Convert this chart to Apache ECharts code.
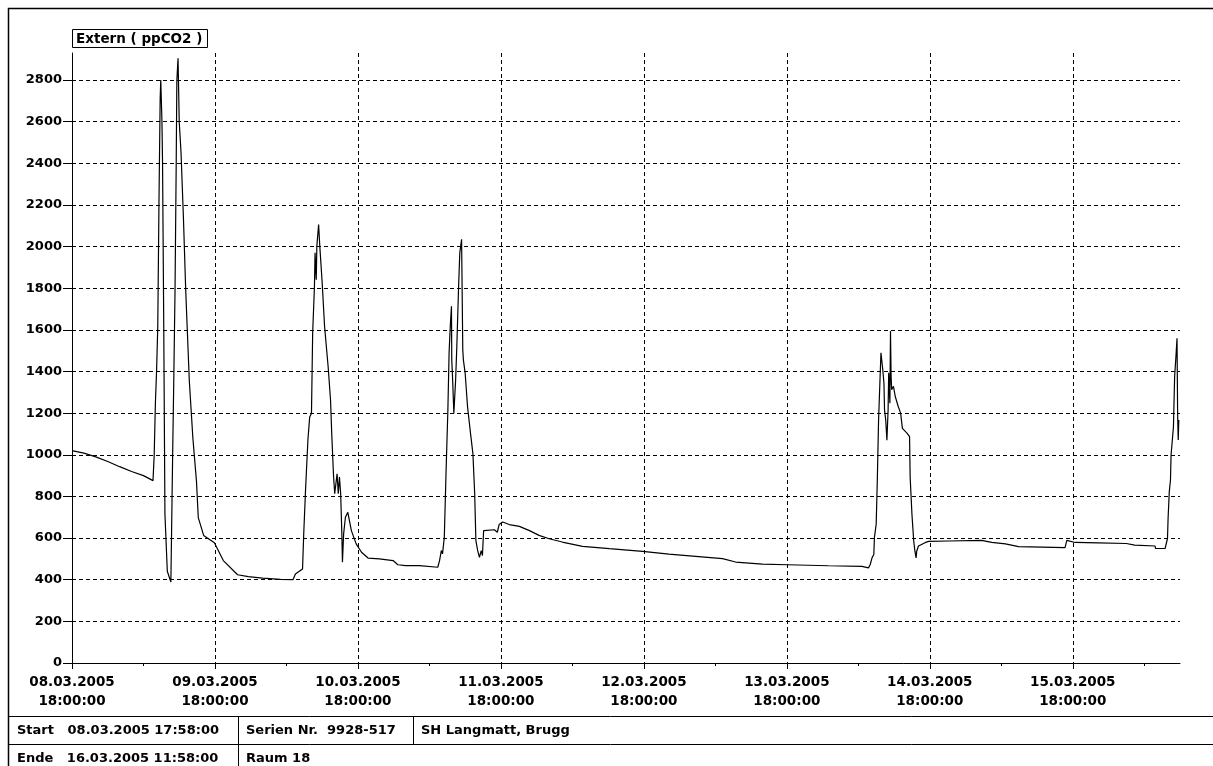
<!DOCTYPE html>
<html>
<head>
<meta charset="utf-8">
<script src="https://cdn.jsdelivr.net/npm/echarts@6/dist/echarts.min.js"></script>
<style>
html,body{margin:0;padding:0;background:#fff;}
#chart{width:1213px;height:766px;}
</style>
</head>
<body>
<div id="chart"></div>
<script>
// Hours since 08.03.2005 18:00:00
var hours = [0,2,4,6,8,10,12,13.6,13.8,14.0,14.2,14.4,14.6,14.8,14.9,15.1,15.2,15.4,15.6,16.0,16.6,16.9,17.1,17.3,17.5,17.6,17.8,18.0,18.3,18.7,19.1,19.7,20.3,20.9,21.2,22.1,23.9,25.4,27.8,29.6,32,35,37.1,37.5,38.7,38.9,39.2,39.6,39.9,40.2,40.3,40.4,40.7,40.8,41.0,41.1,41.4,41.6,42.0,42.4,43.0,43.4,43.6,43.9,44.1,44.5,44.7,44.9,45.1,45.3,45.4,45.6,45.9,46.3,46.9,47.7,48.6,49.7,51.6,53.9,54.7,56,58.3,61.4,61.7,62.0,62.2,62.5,62.8,63.1,63.3,63.5,63.7,63.75,63.9,64.1,64.4,64.6,64.9,65.1,65.4,65.6,65.7,66.0,66.4,66.9,67.3,67.6,67.8,68.1,68.4,68.7,68.9,69.1,69.3,70.9,71.4,71.7,72.3,73.4,75.1,76.8,78.4,80.1,82.3,85.7,90.2,95.8,100.2,104.7,109.2,111.4,115.9,120.1,127.0,132.6,133.7,134.0,134.3,134.6,134.7,135.0,135.2,135.4,135.6,135.8,136.0,136.1,136.3,136.4,136.6,136.8,137.0,137.1,137.3,137.4,137.5,137.6,137.9,138.2,138.7,139.1,139.4,140.2,140.6,140.7,141.0,141.3,141.5,141.7,141.8,142.1,142.4,143.2,143.8,147.1,152.7,154.4,156.7,158.9,166.7,167.0,168.4,172.3,177.0,178.4,181.8,181.9,183.5,183.7,183.9,184.0,184.2,184.4,184.5,184.7,184.9,185.0,185.1,185.3,185.5,185.6,185.7,185.8];
var ppm = [1020,1008,990,968,943,920,900,876,1000,1249,1404,1619,2212,2711,2800,2600,2401,1627,716,441,389,1008,1387,1799,2418,2797,2905,2600,2453,2143,1782,1352,1077,871,698,613,578,492,424,415,408,402,400,427,451,620,829,1070,1182,1198,1391,1584,1809,1970,1841,2001,2106,2001,1825,1616,1423,1263,1103,901,813,909,813,893,813,620,484,620,700,724,636,572,532,504,500,492,472,468,468,460,492,540,524,604,926,1215,1488,1617,1714,1456,1360,1199,1360,1520,1810,1971,2035,1505,1456,1392,1231,1103,1006,813,588,540,508,540,516,636,640,640,628,665,677,665,656,636,613,597,581,560,549,536,523,512,501,485,475,472,467,464,457,473,505,521,602,667,893,1167,1329,1490,1499,1410,1345,1216,1167,1070,1216,1394,1248,1595,1377,1313,1329,1280,1232,1200,1127,1103,1087,893,715,586,537,505,537,562,570,578,584,586,589,579,572,559,554,589,579,577,574,566,562,550,550,574,598,694,822,878,999,1007,1135,1135,1376,1464,1560,1199,1071,1167];

var xTickValues = [0,24,48,72,96,120,144,168];
var xTickLabels = ['08.03.2005\n18:00:00','09.03.2005\n18:00:00','10.03.2005\n18:00:00','11.03.2005\n18:00:00','12.03.2005\n18:00:00','13.03.2005\n18:00:00','14.03.2005\n18:00:00','15.03.2005\n18:00:00'];
var xMinorTickValues = [12,36,60,84,108,132,156,180];
var yTickValues = [0,200,400,600,800,1000,1200,1400,1600,1800,2000,2200,2400,2600,2800];

var seriesName = 'Extern ( ppCO2 )';
var infoStart = 'Start   08.03.2005 17:58:00';
var infoEnde = 'Ende   16.03.2005 11:58:00';
var infoSerien = 'Serien Nr.  9928-517';
var infoOrt = 'SH Langmatt, Brugg';
var infoRaum = 'Raum 18';

var FONT = 'DejaVu Sans';
var chart = echarts.init(document.getElementById('chart'), null, {renderer: 'canvas'});
var data = hours.map(function (h, i) { return [h, ppm[i]]; });

chart.setOption({
  animation: false,
  backgroundColor: '#fff',
  title: {
    text: seriesName,
    left: 72, top: 29,
    padding: [3, 5, 2, 4],
    borderColor: '#000', borderWidth: 1,
    textStyle: {fontFamily: FONT, fontSize: 13.5, fontWeight: 'bold', color: '#000'}
  },
  grid: {left: 72, right: 33, top: 53, bottom: 103, containLabel: false},
  xAxis: [{
    type: 'value', min: 0, max: 186, interval: 24,
    axisLine: {show: true, lineStyle: {color: '#000', width: 1}},
    axisTick: {show: true, length: 6, customValues: xTickValues, lineStyle: {color: '#000'}},
    axisLabel: {
      customValues: xTickValues, margin: 10,
      fontFamily: FONT, fontSize: 13.5, fontWeight: 'bold', color: '#000', lineHeight: 19,
      formatter: function (v) { var i = xTickValues.indexOf(v); return i >= 0 ? xTickLabels[i] : ''; }
    },
    splitLine: {show: true, lineStyle: {color: '#000', type: [4, 3], width: 1}}
  }, {
    type: 'value', min: 0, max: 186, position: 'bottom', gridIndex: 0,
    axisLine: {show: false},
    axisTick: {show: true, length: 3, customValues: xMinorTickValues, lineStyle: {color: '#000'}},
    axisLabel: {show: false},
    splitLine: {show: false}
  }],
  yAxis: {
    type: 'value', min: 0, max: 2930, interval: 200,
    axisLine: {show: true, lineStyle: {color: '#000', type: [4, 3], width: 1}},
    axisTick: {show: true, length: 9, customValues: yTickValues, lineStyle: {color: '#000'}},
    axisLabel: {
      customValues: yTickValues, margin: 10,
      fontFamily: FONT, fontSize: 13, fontWeight: 'bold', color: '#000',
      formatter: function (v) { return String(v); }
    },
    splitLine: {show: true, lineStyle: {color: '#000', type: [4, 3], width: 1}}
  },
  series: [{
    name: seriesName,
    type: 'line',
    xAxisIndex: 0,
    data: data,
    showSymbol: false,
    symbol: 'none',
    lineStyle: {color: '#000', width: 1.2},
    silent: true
  }],
  graphic: [
    {type: 'rect', shape: {x: 8.5, y: 8.5, width: 1215, height: 770}, style: {fill: null, stroke: '#000', lineWidth: 1.5}, silent: true},
    {type: 'line', shape: {x1: 8, y1: 716.5, x2: 1213, y2: 716.5}, style: {stroke: '#000', lineWidth: 1}, silent: true},
    {type: 'line', shape: {x1: 8, y1: 744.5, x2: 1213, y2: 744.5}, style: {stroke: '#000', lineWidth: 1}, silent: true},
    {type: 'line', shape: {x1: 238.5, y1: 716, x2: 238.5, y2: 766}, style: {stroke: '#000', lineWidth: 1}, silent: true},
    {type: 'line', shape: {x1: 413.5, y1: 716, x2: 413.5, y2: 745}, style: {stroke: '#000', lineWidth: 1}, silent: true},
    {type: 'text', x: 17, y: 730.5, style: {text: infoStart, fontFamily: FONT, fontSize: 13, fontWeight: 'bold', fill: '#000', textVerticalAlign: 'middle', verticalAlign: 'middle'}, silent: true},
    {type: 'text', x: 17, y: 758.5, style: {text: infoEnde, fontFamily: FONT, fontSize: 13, fontWeight: 'bold', fill: '#000', textVerticalAlign: 'middle', verticalAlign: 'middle'}, silent: true},
    {type: 'text', x: 246, y: 730.5, style: {text: infoSerien, fontFamily: FONT, fontSize: 13, fontWeight: 'bold', fill: '#000', textVerticalAlign: 'middle', verticalAlign: 'middle'}, silent: true},
    {type: 'text', x: 421, y: 730.5, style: {text: infoOrt, fontFamily: FONT, fontSize: 13, fontWeight: 'bold', fill: '#000', textVerticalAlign: 'middle', verticalAlign: 'middle'}, silent: true},
    {type: 'text', x: 246, y: 758.5, style: {text: infoRaum, fontFamily: FONT, fontSize: 13, fontWeight: 'bold', fill: '#000', textVerticalAlign: 'middle', verticalAlign: 'middle'}, silent: true}
  ]
});
</script>
</body>
</html>
